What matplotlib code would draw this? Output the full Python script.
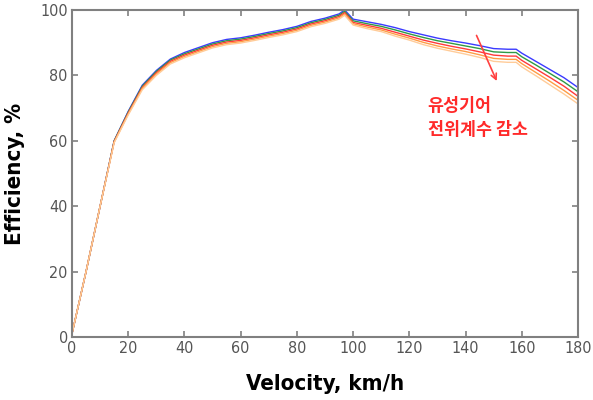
import matplotlib.pyplot as plt
import numpy as np

# velocity points (km/h)
velocity = [0, 5, 10, 15, 20, 25, 30, 35, 40, 45, 50, 55, 60, 65, 70, 75, 80, 85, 90, 95, 97,
            100, 105, 110, 115, 120, 125, 130, 135, 140, 145, 150, 155, 158, 160, 165, 170, 175, 180]

# efficiency (%) for each profile-shift case, largest coefficient first
eff_blue = [1, 20, 40, 60, 69, 77, 81.5, 85, 87, 88.5, 90, 91, 91.5, 92.3, 93.2, 94, 95, 96.5, 97.5, 98.8, 100,
            97.2, 96.4, 95.6, 94.6, 93.4, 92.4, 91.4, 90.6, 89.9, 89.1, 88.2, 88.0, 88.0, 86.8, 84.3, 81.8, 79.3, 76.3]
eff_green = [1, 20, 40, 60, 68.8, 76.7, 81.2, 84.7, 86.6, 88.1, 89.6, 90.6, 91.1, 91.9, 92.8, 93.6, 94.6, 96.1, 97.1, 98.4, 99.6,
             96.7, 95.8, 95.0, 93.9, 92.7, 91.6, 90.6, 89.8, 89.0, 88.2, 87.2, 87.0, 87.0, 85.7, 83.2, 80.6, 78.0, 75.0]
eff_red = [1, 20, 40, 59.8, 68.5, 76.3, 80.8, 84.3, 86.2, 87.7, 89.2, 90.2, 90.7, 91.5, 92.4, 93.2, 94.2, 95.7, 96.7, 98.0, 99.2,
           96.2, 95.3, 94.4, 93.2, 92.0, 90.8, 89.8, 88.9, 88.1, 87.2, 86.2, 85.9, 85.9, 84.6, 82.0, 79.4, 76.7, 73.6]
eff_orange = [1, 20, 40, 59.6, 68.2, 76.0, 80.4, 83.9, 85.8, 87.3, 88.8, 89.8, 90.3, 91.1, 92.0, 92.8, 93.8, 95.3, 96.3, 97.6, 98.8,
              95.8, 94.8, 93.9, 92.6, 91.4, 90.1, 89.0, 88.1, 87.3, 86.3, 85.2, 84.9, 84.9, 83.6, 80.9, 78.2, 75.4, 72.4]
eff_peach = [1, 20, 40, 59.4, 67.9, 75.6, 80.0, 83.5, 85.4, 86.9, 88.4, 89.4, 89.9, 90.7, 91.6, 92.4, 93.4, 94.9, 95.9, 97.2, 98.4,
             95.4, 94.3, 93.4, 92.0, 90.8, 89.4, 88.3, 87.4, 86.5, 85.5, 84.3, 84.0, 84.0, 82.6, 79.9, 77.1, 74.3, 71.3]

series = [eff_blue, eff_green, eff_red, eff_orange, eff_peach]
colors = ['#3a3aff', '#2f9a45', '#ff3a3a', '#ff9c45', '#ffcc99']

narrow = ['DejaVu Sans Condensed', 'DejaVu Sans']

fig = plt.figure(figsize=(5.93, 4.0), dpi=100)
ax = fig.add_axes([72 / 593, 1 - 337 / 400, (578 - 72) / 593, (337 - 10) / 400])

for eff, c in zip(series, colors):
    ax.plot(velocity, eff, color=c, lw=1.0)

ax.set_xlim(0, 180)
ax.set_ylim(0, 100)
ax.set_xticks(np.arange(0, 181, 20))
ax.set_yticks(np.arange(0, 101, 20))

for s in ax.spines.values():
    s.set_color('#808080')
    s.set_linewidth(1.5)
ax.tick_params(direction='in', length=4, width=1.2, color='#808080',
               top=True, right=True, labelcolor='#555555', labelsize=11.5, pad=3)
for lab in ax.get_xticklabels() + ax.get_yticklabels():
    lab.set_family(narrow)
    lab.set_stretch('condensed')

ax.set_xlabel('Velocity, km/h', family=narrow, stretch='condensed', fontsize=16,
              fontweight='bold', labelpad=13)
ax.set_ylabel('Efficiency, %', family=narrow, stretch='condensed', fontsize=16,
              fontweight='bold', labelpad=11)

# annotation: decreasing profile shift coefficient
ax.annotate('', xy=(151.5, 77.5), xytext=(143.5, 93),
            arrowprops=dict(arrowstyle='->', color='#ff4040', lw=1.2))
ax.text(126.5, 70.5, '유성기어', color='#ff2a2a', fontsize=12.5, fontweight='bold',
        family=['Noto Sans CJK KR', 'DejaVu Sans'], va='center', ha='left')
ax.text(126.5, 63.3, '전위계수 감소', color='#ff2a2a', fontsize=12.5, fontweight='bold',
        family=['Noto Sans CJK KR', 'DejaVu Sans'], va='center', ha='left')

fig.savefig('out.png', dpi=100)
